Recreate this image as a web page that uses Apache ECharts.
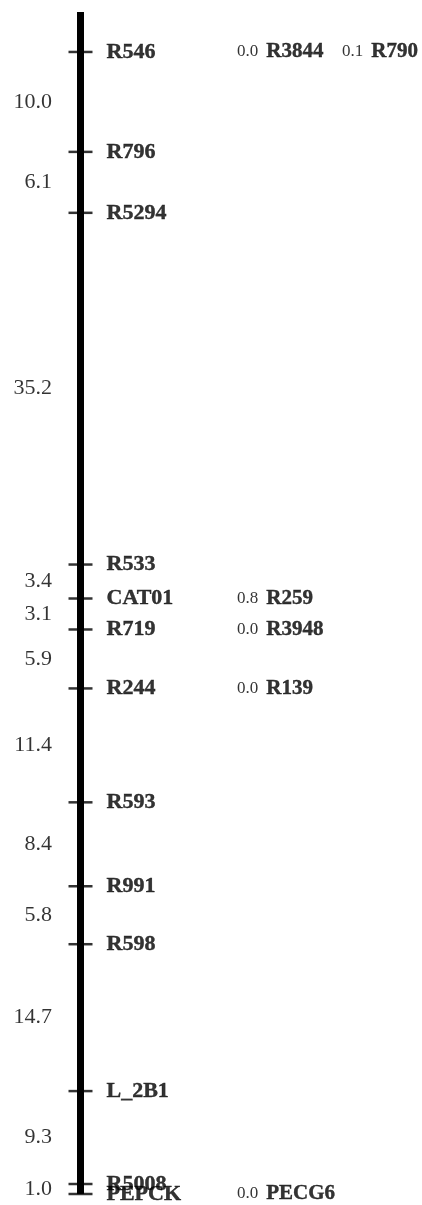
<!DOCTYPE html>
<html>
<head>
<meta charset="utf-8">
<script src="https://cdn.jsdelivr.net/npm/echarts@6/dist/echarts.min.js"></script>
<style>
html,body{margin:0;padding:0;background:#fff;}
#chart{width:422px;height:1205px;}
</style>
</head>
<body>
<div id="chart"></div>
<script>
// Marker names, top to bottom
var markers = ['R546','R796','R5294','R533','CAT01','R719','R244','R593','R991','R598','L_2B1','R5008','PEPCK'];
// Interval distances (cM) between consecutive markers
var intervals = [10.0, 6.1, 35.2, 3.4, 3.1, 5.9, 11.4, 8.4, 5.8, 14.7, 9.3, 1.0];
// Co-located markers: index of framework marker, column, distance label, name
var sideIndex = [0, 0, 4, 5, 6, 12];
var sideColumn = [0, 1, 0, 0, 0, 0];
var sideDist = ['0.0', '0.1', '0.8', '0.0', '0.0', '0.0'];
var sideNames = ['R3844', 'R790', 'R259', 'R3948', 'R139', 'PECG6'];

// cumulative positions
var pos = [0];
for (var i = 0; i < intervals.length; i++) pos.push(+(pos[i] + intervals[i]).toFixed(1));
var total = pos[pos.length - 1];

var BAR_X = 80.5, LEFT_X = 52, COL_X = [237, 342];
var serif = 'Liberation Serif';
var ink = {textBorderColor: '#000', textBorderWidth: 0.4};

var chart = echarts.init(document.getElementById('chart'));
chart.setOption({
  animation: false,
  grid: {left: 0, right: 0, top: 12, bottom: 11},
  xAxis: {type: 'value', min: 0, max: 422, show: false},
  yAxis: {type: 'value', min: -4, max: total, inverse: true, show: false},
  series: [
    {
      type: 'line', symbol: 'none', silent: true,
      lineStyle: {color: '#000', width: 7},
      data: [[BAR_X, -4], [BAR_X, total]]
    },
    {
      type: 'scatter', symbol: 'rect', symbolSize: [24, 2.5],
      itemStyle: {color: '#000'},
      data: markers.map(function (m, i) { return {value: [BAR_X, pos[i]], name: m}; }),
      label: Object.assign({
        show: true, position: 'right', distance: 14,
        formatter: function (p) { return p.name; },
        fontFamily: serif, fontWeight: 'bold', fontSize: 22, color: '#000'
      }, ink)
    },
    {
      type: 'scatter', symbolSize: 0,
      data: intervals.map(function (d, i) { return {value: [LEFT_X, (pos[i] + pos[i + 1]) / 2], name: d.toFixed(1)}; }),
      label: {
        show: true, position: 'left', distance: 0,
        formatter: function (p) { return p.name; },
        fontFamily: serif, fontSize: 22, color: '#000'
      }
    },
    {
      type: 'scatter', symbolSize: 0,
      data: sideNames.map(function (n, k) {
        return {value: [COL_X[sideColumn[k]], pos[sideIndex[k]]], name: '{d|' + sideDist[k] + '}{n|' + n + '}'};
      }),
      label: {
        show: true, position: 'right', distance: 0,
        formatter: function (p) { return p.name; },
        rich: {
          d: {fontFamily: serif, fontSize: 17, color: '#000'},
          n: Object.assign({fontFamily: serif, fontSize: 21, fontWeight: 'bold', color: '#000', padding: [0, 0, 0, 8]}, ink)
        }
      }
    }
  ]
});
</script>
</body>
</html>
